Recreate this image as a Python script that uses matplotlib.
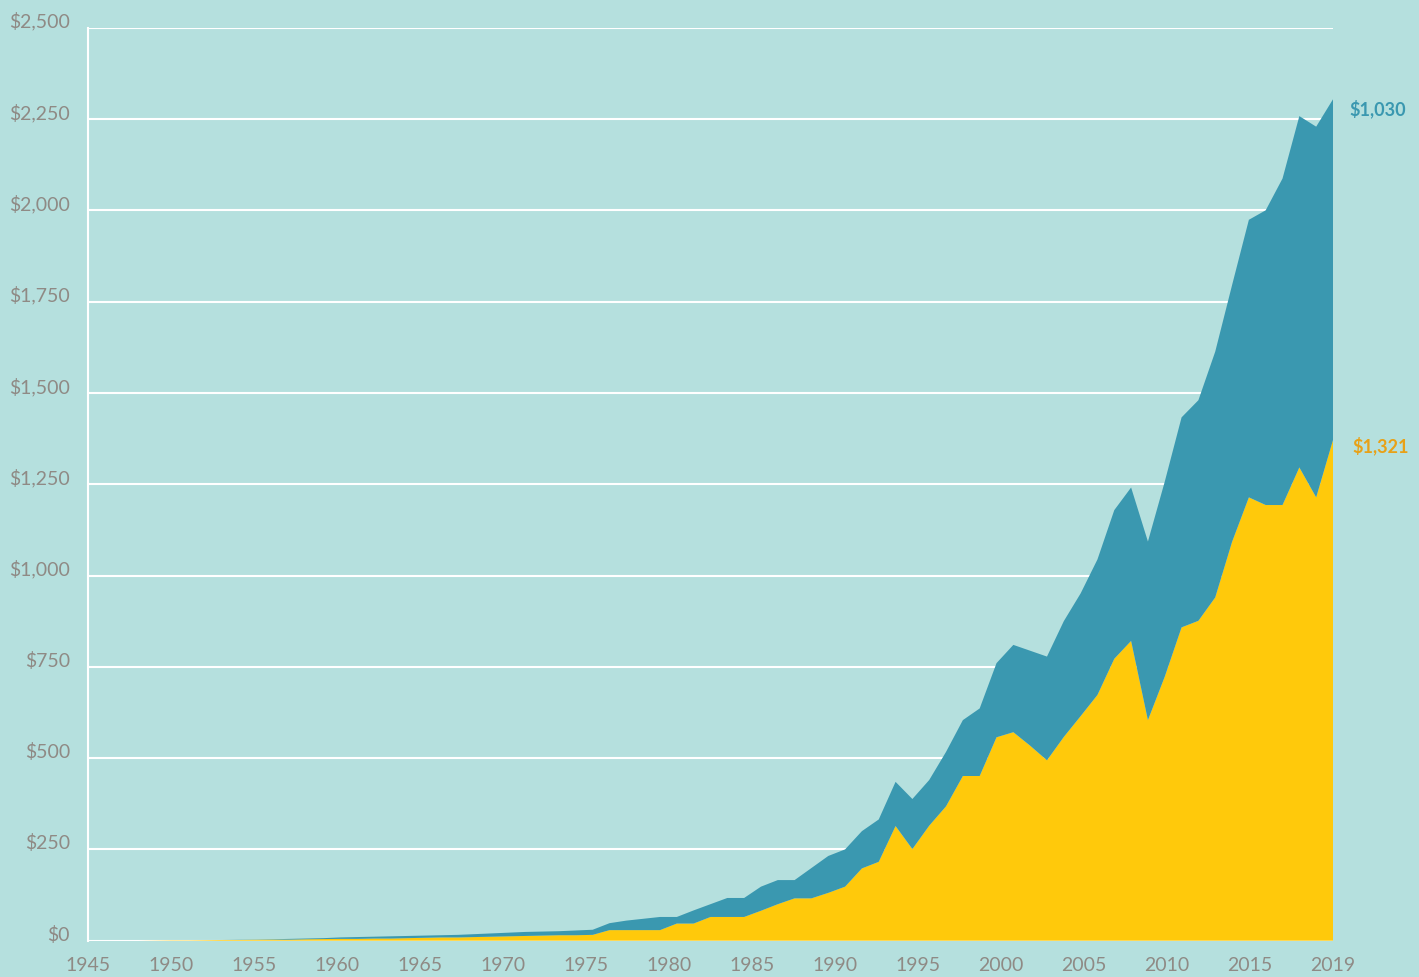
import numpy as np
import matplotlib.pyplot as plt

# 年份与两层面积数据（从图中读取，单位：美元）
years = np.arange(1945, 2020)
yellow = [0, 0, 0, 0, 0.5, 1, 1, 1.5, 2, 2, 2.5, 3, 3, 4, 4.5, 5, 5, 6, 6, 7,
          8, 9, 9, 10, 11, 12, 13, 14, 15, 15, 16,
          29, 29, 29, 29, 47, 47, 65, 65, 65, 82, 100, 116, 116, 131, 148, 198,
          216, 314, 251, 315, 368, 451, 451, 557, 571, 534, 494, 558, 615, 673,
          772, 821, 604, 723, 858, 876, 940, 1092, 1214, 1193, 1193, 1296, 1214,
          1371]
teal = [0, 0, 0, 0, 0, 0, 0, 0, 0, 0.5, 0.5, 1, 2, 2, 2.5, 4, 5, 5, 6, 6,
        6, 6, 7, 8, 9, 10, 11, 11, 11, 13, 14,
        19, 26, 31, 36, 18, 36, 35, 52, 52, 66, 66, 50, 83, 101, 102, 102,
        116, 121, 137, 125, 149, 153, 185, 203, 239, 260, 284, 317, 336, 371,
        407, 420, 489, 534, 575, 604, 673, 703, 760, 807, 894, 962, 1015,
        933]
end_labels = ['$1,321', '$1,030']

x_tick_pos = np.linspace(1945, 2019, 16)
x_tick_labels = [str(y) for y in range(1945, 2016, 5)] + ['2019']
y_ticks = np.arange(0, 2501, 250)
y_tick_labels = ['${:,}'.format(v) for v in y_ticks]

bg = '#b5e0de'
c_yellow = '#ffc90b'
c_teal = '#3a98b0'
c_text = '#8f8a85'

plt.rcParams['font.family'] = ['Lato', 'DejaVu Sans']

fig = plt.figure(figsize=(14.19, 9.77), dpi=100, facecolor=bg)
ax = fig.add_axes([88 / 1419, 36.3 / 977, 1245 / 1419, 913 / 977])
ax.set_facecolor(bg)

ax.stackplot(years, yellow, teal, colors=[c_yellow, c_teal], linewidth=0, zorder=3)

ax.set_xlim(1945, 2019)
ax.set_ylim(0, 2500)
ax.set_xticks(x_tick_pos)
ax.set_xticklabels(x_tick_labels)
ax.set_yticks(y_ticks)
ax.set_yticklabels(y_tick_labels)
for lab in ax.get_yticklabels():
    lab.set_verticalalignment('baseline')

ax.grid(axis='y', color='white', linewidth=1.5, zorder=1)
ax.set_axisbelow(True)
ax.tick_params(axis='both', length=0, colors=c_text, labelsize=14)
ax.tick_params(axis='x', pad=11.5)
ax.tick_params(axis='y', pad=13)

for side in ['top', 'right', 'bottom']:
    ax.spines[side].set_visible(False)
ax.spines['left'].set_color('white')
ax.spines['left'].set_linewidth(1.5)

total = np.array(yellow) + np.array(teal)
ax.annotate(end_labels[1], xy=(years[-1], total[-1]), xytext=(12, -7),
            textcoords='offset points', ha='left', va='center',
            color=c_teal, fontsize=13, fontweight='bold', annotation_clip=False)
ax.annotate(end_labels[0], xy=(years[-1], yellow[-1]), xytext=(14, -4),
            textcoords='offset points', ha='left', va='center',
            color='#e8a117', fontsize=13, fontweight='bold', annotation_clip=False)

fig.savefig('out.png', dpi=100, facecolor=bg)
